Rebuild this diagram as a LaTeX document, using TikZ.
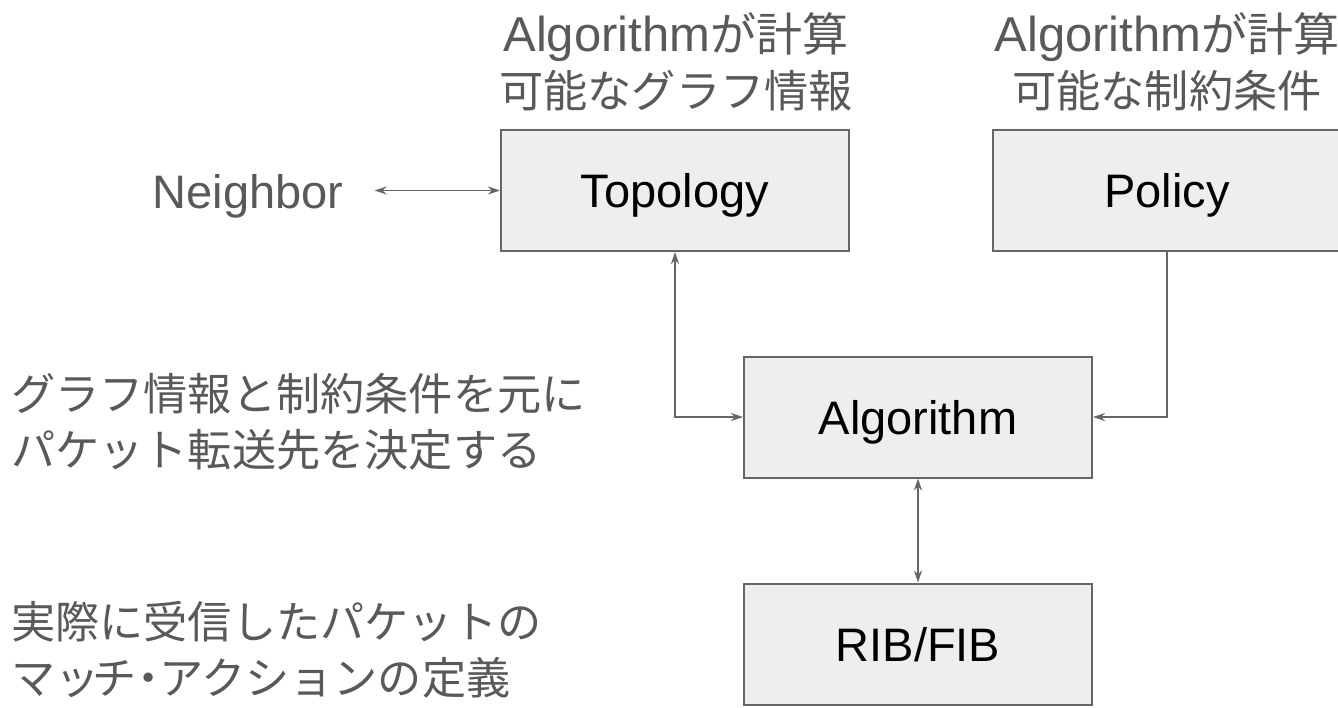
\documentclass[tikz,border=0pt]{standalone}
\usepackage{fontspec}
\setmainfont{Liberation Sans}
\newfontfamily\jp{Noto Sans CJK JP}[Scale=0.94]
\usetikzlibrary{arrows.meta}
\definecolor{boxfill}{HTML}{EEEEEE}
\definecolor{boxline}{HTML}{666666}
\definecolor{notegray}{HTML}{595959}
\tikzset{>={Stealth[length=12pt,width=8pt,inset=4pt]}}
\tikzset{
  block/.style={draw=boxline, line width=2pt, fill=boxfill,
    minimum width=348pt, minimum height=121pt,
    text height=34pt, text depth=0pt, font=\fontsize{47pt}{56pt}\selectfont},
  note/.style={text=notegray, inner sep=0pt, font=\fontsize{47pt}{56pt}\selectfont},
  link/.style={draw=boxline, line width=1.8pt}
}

\begin{document}
\begin{tikzpicture}[x=1pt, y=-1pt]
    \useasboundingbox (0,0) rectangle (1338,707);
    \node[block] (topo) at (675,190.5) {Topology};
    \node[block] (policy) at (1167,190.5) {Policy};
    \node[block] (algo) at (918,417) {Algorithm};
    \node[block] (rib) at (918,644) {RIB/FIB};
    % labels
    \node[note, anchor=base] (nb) at (248,208) {Neighbor};
    \node[note, anchor=north, align=center] (topolabel) at (676,12)
      {\fontsize{49pt}{56pt}\selectfont Algorithm{\jp が計算}\\{\jp 可能なグラフ情報}};
    \node[note, anchor=north, align=center] (policylabel) at (1167,12)
      {\fontsize{49pt}{56pt}\selectfont Algorithm{\jp が計算}\\{\jp 可能な制約条件}};
    \node[note, anchor=north west, align=left, font=\fontsize{47pt}{56pt}\selectfont\jp] (algonote) at (11,373)
      {グラフ情報と制約条件を元に\\パケット転送先を決定する};
    \node[note, anchor=north west, align=left, font=\fontsize{47pt}{56pt}\selectfont\jp] (ribnote) at (11,601)
      {実際に受信したパケットの\\マッ\kern-.15emチ\kern-.25em・\kern-.25emアクションの定義};
    % connectors
    \draw[link, <->, shorten <=31pt] (nb.east |- topo.west) -- (topo.west);
    \draw[link, <->] (topo.south) |- (algo.west);
    \draw[link, ->] (policy.south) |- (algo.east);
    \draw[link, <->] (algo.south) -- (rib.north);
\end{tikzpicture}
\end{document}
